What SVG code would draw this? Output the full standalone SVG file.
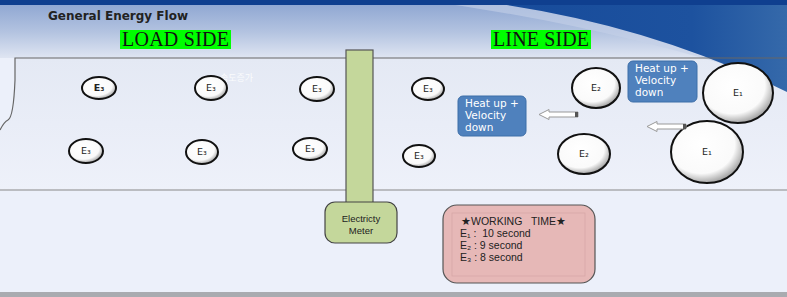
<svg xmlns="http://www.w3.org/2000/svg" width="787" height="297" viewBox="0 0 787 297">
<defs>
<linearGradient id="hdr" x1="0" y1="0" x2="0" y2="1">
<stop offset="0" stop-color="#8aa3d0"/>
<stop offset="0.55" stop-color="#b3c3e0"/>
<stop offset="1" stop-color="#dfe5f2"/>
</linearGradient>
<linearGradient id="main" x1="0" y1="0" x2="0" y2="1">
<stop offset="0" stop-color="#e4e9f4"/>
<stop offset="1" stop-color="#eef1fa"/>
</linearGradient>
<linearGradient id="swoosh" x1="0" y1="0" x2="1" y2="0">
<stop offset="0" stop-color="#164a9a"/>
<stop offset="0.7" stop-color="#1d529f"/>
<stop offset="1" stop-color="#3569aa"/>
</linearGradient>
<radialGradient id="ball" cx="0.42" cy="0.38" r="0.62">
<stop offset="0" stop-color="#ffffff"/>
<stop offset="0.75" stop-color="#fafafa"/>
<stop offset="1" stop-color="#a8a8a8"/>
</radialGradient>
<style>
.ball{fill:url(#ball);stroke:#111;stroke-width:2}
.bl{font-family:"DejaVu Sans",sans-serif;font-size:9.5px;fill:#222;text-anchor:middle}
.side{font-family:"Liberation Serif",serif;font-size:20px;fill:#111}
.heat{fill:#4f81bd;stroke:#3d6ea8;stroke-width:1}
.ht{font-family:"DejaVu Sans",sans-serif;font-size:10.5px;fill:#fff}
.arr{fill:#fff;stroke:#999;stroke-width:1}
.wt{font-family:"Liberation Sans",sans-serif;font-size:10.5px;fill:#222;white-space:pre}
</style>
</defs>
<rect width="787" height="297" fill="#ecf0fa"/>
<rect width="787" height="58" fill="url(#hdr)"/>
<path d="M787 58 L15 58 L15 80 C14 105 12 118 8 120 C4 122 2 126 0 130 L0 190 L787 190 Z" fill="url(#main)"/>
<path d="M420 0 Q610 25 787 84 L787 0 Z" fill="#c5d1e8" opacity="0.6"/>
<path d="M470 0 Q640 20 787 92 L787 0 Z" fill="url(#swoosh)"/>
<rect width="787" height="5" fill="#0f3f8f"/>
<rect y="292" width="787" height="5" fill="#a9abb0"/>
<g id="frame">
<path d="M787 58 L15 58 L15 80 C14 105 12 118 8 120 C4 122 2 126 0 130" fill="none" stroke="#666" stroke-width="1.2"/>
<line x1="0" y1="190" x2="787" y2="190" stroke="#888" stroke-width="1.2"/>
</g>
<text x="48" y="20" font-family="DejaVu Sans,sans-serif" font-size="12px" font-weight="bold" fill="#222">General Energy Flow</text>
<g id="load-side"><rect x="120" y="30" width="111" height="19" fill="#00ff00"/><text class="side" x="122" y="46" textLength="107">LOAD SIDE</text></g>
<g id="line-side"><rect x="491" y="30" width="100" height="19" fill="#00ff00"/><text class="side" x="493" y="46" textLength="96">LINE SIDE</text></g>
<text x="220" y="81" font-family="Noto Sans CJK KR,sans-serif" font-size="9px" fill="#ffffff" opacity="0.85">속도증가</text>
<g id="meter">
<rect x="346" y="50" width="27" height="155" fill="#c4d79b" stroke="#555" stroke-width="1.2"/>
<rect x="325" y="202" width="72" height="41" rx="10" fill="#c4d79b" stroke="#444" stroke-width="1.2"/>
<text x="361" y="222" font-family="Liberation Sans,sans-serif" font-size="9.5px" fill="#222" text-anchor="middle">Electricty</text>
<text x="361" y="234" font-family="Liberation Sans,sans-serif" font-size="9.5px" fill="#222" text-anchor="middle">Meter</text>
</g>
<g id="working-time">
<rect x="443" y="205" width="152" height="78" rx="14" fill="#e6b8b7" stroke="#555" stroke-width="1.2"/>
<rect x="452" y="213" width="133" height="63" fill="none" stroke="#d6a8a7" stroke-width="0.8"/>
<text class="wt" x="461" y="225">★WORKING   TIME★</text>
<text class="wt" x="460" y="237">E₁ :  10 second</text>
<text class="wt" x="460" y="249">E₂ : 9 second</text>
<text class="wt" x="460" y="261">E₃ : 8 second</text>
</g>
<g id="e3-1"><ellipse class="ball" cx="99" cy="88" rx="17" ry="11"/><text class="bl" x="99" y="91" font-weight="bold">E₃</text></g>
<g id="e3-2"><ellipse class="ball" cx="211" cy="88" rx="16" ry="12"/><text class="bl" x="211" y="91">E₃</text></g>
<g id="e3-3"><ellipse class="ball" cx="317" cy="89" rx="17" ry="12"/><text class="bl" x="317" y="92">E₃</text></g>
<g id="e3-4"><ellipse class="ball" cx="86" cy="151" rx="17" ry="12"/><text class="bl" x="86" y="154">E₃</text></g>
<g id="e3-5"><ellipse class="ball" cx="202" cy="152" rx="16" ry="12"/><text class="bl" x="202" y="155">E₃</text></g>
<g id="e3-6"><ellipse class="ball" cx="310" cy="149" rx="17" ry="11"/><text class="bl" x="310" y="152">E₃</text></g>
<g id="e3-7"><ellipse class="ball" cx="428" cy="89" rx="16" ry="11"/><text class="bl" x="428" y="92">E₃</text></g>
<g id="e3-8"><ellipse class="ball" cx="419" cy="156" rx="16" ry="11"/><text class="bl" x="419" y="159">E₃</text></g>
<g id="e2-1"><ellipse class="ball" cx="596" cy="88" rx="24" ry="20"/><text class="bl" x="596" y="91">E₂</text></g>
<g id="e2-2"><ellipse class="ball" cx="584" cy="154" rx="26" ry="20"/><text class="bl" x="584" y="157">E₂</text></g>
<g id="e1-1"><ellipse class="ball" cx="738" cy="93" rx="35" ry="30"/><text class="bl" x="738" y="96">E₁</text></g>
<g id="e1-2"><ellipse class="ball" cx="707" cy="152" rx="36" ry="31"/><text class="bl" x="707" y="155">E₁</text></g>
<g id="heat-1"><rect class="heat" x="458" y="96" width="68" height="40" rx="5"/><text class="ht" x="465" y="107">Heat up +</text><text class="ht" x="465" y="119">Velocity</text><text class="ht" x="465" y="131">down</text></g>
<g id="heat-2"><rect class="heat" x="628" y="61" width="69" height="41" rx="5"/><text class="ht" x="635" y="72">Heat up +</text><text class="ht" x="635" y="84">Velocity</text><text class="ht" x="635" y="96">down</text></g>
<g id="connectors">
<path class="arr" d="M539 114.5 L549 109.5 L549 112 L578 112 L578 117 L549 117 L549 119.5 Z"/>
<rect x="575" y="112" width="3" height="5" fill="#555"/>
<path class="arr" d="M647 126.5 L657 121.5 L657 124 L686 124 L686 129 L657 129 L657 131.5 Z"/>
<rect x="683" y="124" width="3" height="5" fill="#555"/>
</g>
</svg>
